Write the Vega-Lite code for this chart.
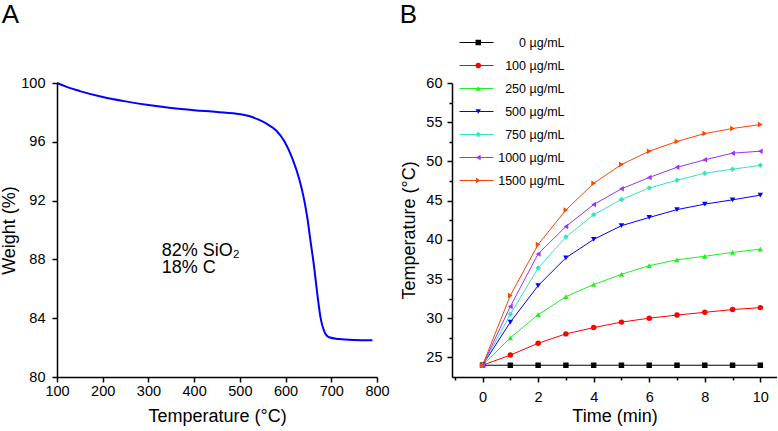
{
  "$schema": "https://vega.github.io/schema/vega-lite/v6.json",
  "padding": {"left": 0, "top": 2, "right": 0, "bottom": 0},
  "background": "white",
  "spacing": 75,
  "bounds": "flush",
  "config": {
    "font": "Liberation Sans",
    "view": {"stroke": null},
    "axis": {
      "domainColor": "black", "domainWidth": 1.5, "tickColor": "black", "tickWidth": 1.5,
      "labelColor": "black", "titleColor": "black", "labelFont": "Liberation Sans", "titleFont": "Liberation Sans",
      "labelFontSize": 14.5, "titleFontSize": 18, "titleFontWeight": "normal", "grid": false,
      "labelFlush": false, "labelOverlap": false
    },
    "title": {"font": "Liberation Sans", "fontSize": 26, "fontWeight": "normal", "anchor": "start", "color": "black", "baseline": "alphabetic"}
  },
  "hconcat": [
    {
      "width": 320,
      "height": 294,
      "title": {"text": "A", "dx": 1, "offset": 47},
      "layer": [
        {
          "data": {"values": [
            {"temp": 100, "weight": 100.0}, {"temp": 120, "weight": 99.75}, {"temp": 150, "weight": 99.45},
            {"temp": 200, "weight": 99.05}, {"temp": 250, "weight": 98.75}, {"temp": 300, "weight": 98.5},
            {"temp": 350, "weight": 98.3}, {"temp": 400, "weight": 98.15}, {"temp": 450, "weight": 98.03},
            {"temp": 500, "weight": 97.88}, {"temp": 520, "weight": 97.75}, {"temp": 540, "weight": 97.52},
            {"temp": 560, "weight": 97.2}, {"temp": 580, "weight": 96.75}, {"temp": 598, "weight": 96.0},
            {"temp": 615, "weight": 94.85}, {"temp": 630, "weight": 93.45}, {"temp": 640, "weight": 92.15},
            {"temp": 648, "weight": 90.75}, {"temp": 655, "weight": 89.15}, {"temp": 662, "weight": 87.6},
            {"temp": 670, "weight": 85.5}, {"temp": 677, "weight": 83.95}, {"temp": 684, "weight": 83.15},
            {"temp": 695, "weight": 82.7}, {"temp": 717, "weight": 82.58}, {"temp": 750, "weight": 82.52},
            {"temp": 790, "weight": 82.5}
          ]},
          "mark": {"type": "line", "color": "#0000ff", "strokeWidth": 2, "interpolate": "monotone"},
          "encoding": {
            "x": {"field": "temp", "type": "quantitative",
              "scale": {"domain": [100, 800], "nice": false},
              "axis": {"title": "Temperature (°C)",
                "values": [100,150,200,250,300,350,400,450,500,550,600,650,700,750,800],
                "labelExpr": "datum.value % 100 === 0 ? datum.label : ''",
                "tickSize": {"condition": {"test": "datum.value % 100 === 0", "value": 5}, "value": 3},
                "labelPadding": 2, "titlePadding": 10}},
            "y": {"field": "weight", "type": "quantitative",
              "scale": {"domain": [80, 100], "nice": false, "zero": false},
              "axis": {"title": "Weight (%)",
                "values": [80,82,84,86,88,90,92,94,96,98,100],
                "labelExpr": "datum.value % 4 === 0 ? datum.label : ''",
                "tickSize": {"condition": {"test": "datum.value % 4 === 0", "value": 5}, "value": 3},
                "labelPadding": 7, "titlePadding": 2}}
          }
        },
        {
          "data": {"values": [
            {"temp": 329, "weight": 88.25, "label": "82% SiO₂"},
            {"temp": 329, "weight": 87.05, "label": "18% C"}
          ]},
          "mark": {"type": "text", "align": "left", "baseline": "alphabetic", "fontSize": 18, "font": "Liberation Sans", "color": "black"},
          "encoding": {
            "x": {"field": "temp", "type": "quantitative"},
            "y": {"field": "weight", "type": "quantitative"},
            "text": {"field": "label"}
          }
        }
      ]
    },
    {
      "width": 325,
      "height": 294,
      "title": {"text": "B", "dx": -1, "offset": 47},
      "data": {"values": [
        {"t":0,"temp":24,"conc":0},{"t":1,"temp":24,"conc":0},{"t":2,"temp":24,"conc":0},{"t":3,"temp":24,"conc":0},{"t":4,"temp":24,"conc":0},{"t":5,"temp":24,"conc":0},{"t":6,"temp":24,"conc":0},{"t":7,"temp":24,"conc":0},{"t":8,"temp":24,"conc":0},{"t":9,"temp":24,"conc":0},{"t":10,"temp":24,"conc":0},
        {"t":0,"temp":24,"conc":100},{"t":1,"temp":25.3,"conc":100},{"t":2,"temp":26.8,"conc":100},{"t":3,"temp":28.0,"conc":100},{"t":4,"temp":28.8,"conc":100},{"t":5,"temp":29.5,"conc":100},{"t":6,"temp":30.0,"conc":100},{"t":7,"temp":30.4,"conc":100},{"t":8,"temp":30.75,"conc":100},{"t":9,"temp":31.1,"conc":100},{"t":10,"temp":31.35,"conc":100},
        {"t":0,"temp":24,"conc":250},{"t":1,"temp":27.5,"conc":250},{"t":2,"temp":30.45,"conc":250},{"t":3,"temp":32.75,"conc":250},{"t":4,"temp":34.3,"conc":250},{"t":5,"temp":35.6,"conc":250},{"t":6,"temp":36.7,"conc":250},{"t":7,"temp":37.45,"conc":250},{"t":8,"temp":37.9,"conc":250},{"t":9,"temp":38.4,"conc":250},{"t":10,"temp":38.8,"conc":250},
        {"t":0,"temp":24,"conc":500},{"t":1,"temp":29.5,"conc":500},{"t":2,"temp":34.15,"conc":500},{"t":3,"temp":37.7,"conc":500},{"t":4,"temp":40.05,"conc":500},{"t":5,"temp":41.8,"conc":500},{"t":6,"temp":42.85,"conc":500},{"t":7,"temp":43.85,"conc":500},{"t":8,"temp":44.55,"conc":500},{"t":9,"temp":45.1,"conc":500},{"t":10,"temp":45.7,"conc":500},
        {"t":0,"temp":24,"conc":750},{"t":1,"temp":30.5,"conc":750},{"t":2,"temp":36.4,"conc":750},{"t":3,"temp":40.35,"conc":750},{"t":4,"temp":43.2,"conc":750},{"t":5,"temp":45.15,"conc":750},{"t":6,"temp":46.6,"conc":750},{"t":7,"temp":47.6,"conc":750},{"t":8,"temp":48.5,"conc":750},{"t":9,"temp":49.0,"conc":750},{"t":10,"temp":49.5,"conc":750},
        {"t":0,"temp":24,"conc":1000},{"t":1,"temp":31.5,"conc":1000},{"t":2,"temp":38.2,"conc":1000},{"t":3,"temp":41.7,"conc":1000},{"t":4,"temp":44.5,"conc":1000},{"t":5,"temp":46.5,"conc":1000},{"t":6,"temp":47.95,"conc":1000},{"t":7,"temp":49.25,"conc":1000},{"t":8,"temp":50.2,"conc":1000},{"t":9,"temp":51.05,"conc":1000},{"t":10,"temp":51.3,"conc":1000},
        {"t":0,"temp":24,"conc":1500},{"t":1,"temp":32.9,"conc":1500},{"t":2,"temp":39.4,"conc":1500},{"t":3,"temp":43.8,"conc":1500},{"t":4,"temp":47.2,"conc":1500},{"t":5,"temp":49.6,"conc":1500},{"t":6,"temp":51.3,"conc":1500},{"t":7,"temp":52.55,"conc":1500},{"t":8,"temp":53.55,"conc":1500},{"t":9,"temp":54.2,"conc":1500},{"t":10,"temp":54.7,"conc":1500}
      ]},
      "encoding": {
        "x": {"field": "t", "type": "quantitative",
          "scale": {"domain": [-1.1, 10.6], "nice": false, "zero": false},
          "axis": {"title": "Time (min)",
            "values": [-1,0,1,2,3,4,5,6,7,8,9,10],
            "labelExpr": "datum.value % 2 === 0 ? datum.label : ''",
            "tickSize": {"condition": {"test": "datum.value % 2 === 0", "value": 5}, "value": 3},
            "labelPadding": 8, "titlePadding": 4}},
        "y": {"field": "temp", "type": "quantitative",
          "scale": {"domain": [22.5, 60], "nice": false, "zero": false},
          "axis": {"title": "Temperature (°C)",
            "values": [25,27.5,30,32.5,35,37.5,40,42.5,45,47.5,50,52.5,55,57.5,60],
            "labelExpr": "datum.value % 5 === 0 ? datum.label : ''",
            "tickSize": {"condition": {"test": "datum.value % 5 === 0", "value": 5}, "value": 3},
            "labelPadding": 5, "titlePadding": 7}}
      },
      "layer": [
        {
          "mark": {"type": "line", "strokeWidth": 1},
          "encoding": {
            "color": {"field": "conc", "type": "nominal",
              "scale": {"domain": [0, 100, 250, 500, 750, 1000, 1500],
                "range": ["#000000", "#ff0000", "#22ee22", "#0000ff", "#33e6c0", "#9933ff", "#ff4400"]},
              "legend": {"orient": "none", "legendX": 402, "legendY": -52, "symbolType": "stroke", "symbolSize": 1156,
                "symbolStrokeWidth": 1, "clipHeight": 23, "rowPadding": 0, "labelExpr": "''", "title": null, "padding": 0}}
          }
        },
        {
          "mark": {"type": "point", "filled": true, "size": 30, "opacity": 1},
          "encoding": {
            "fill": {"field": "conc", "type": "nominal", "sort": "ascending",
              "scale": {"range": ["#000000", "#ff0000", "#22ee22", "#0000ff", "#33e6c0", "#9933ff", "#ff4400"]},
              "legend": {"orient": "none", "legendX": 415, "legendY": -52, "symbolSize": 30, "clipHeight": 23, "rowPadding": 0,
                "title": null, "padding": 0, "labelExpr": "datum.label + ' µg/mL'", "labelAlign": "right", "labelOffset": 80,
                "labelFontSize": 12.5, "labelFont": "Liberation Sans", "labelColor": "black", "symbolStrokeWidth": 0}},
            "shape": {"field": "conc", "type": "nominal", "sort": "ascending",
              "scale": {"range": ["square", "circle", "triangle-up", "triangle-down", "diamond", "triangle-left", "triangle-right"]},
              "legend": {"orient": "none", "legendX": 415, "legendY": -52, "symbolSize": 30, "clipHeight": 23, "rowPadding": 0,
                "title": null, "padding": 0, "labelExpr": "datum.label + ' µg/mL'", "labelAlign": "right", "labelOffset": 80,
                "labelFontSize": 12.5, "labelFont": "Liberation Sans", "labelColor": "black", "symbolStrokeWidth": 0}}
          }
        }
      ]
    }
  ]
}
